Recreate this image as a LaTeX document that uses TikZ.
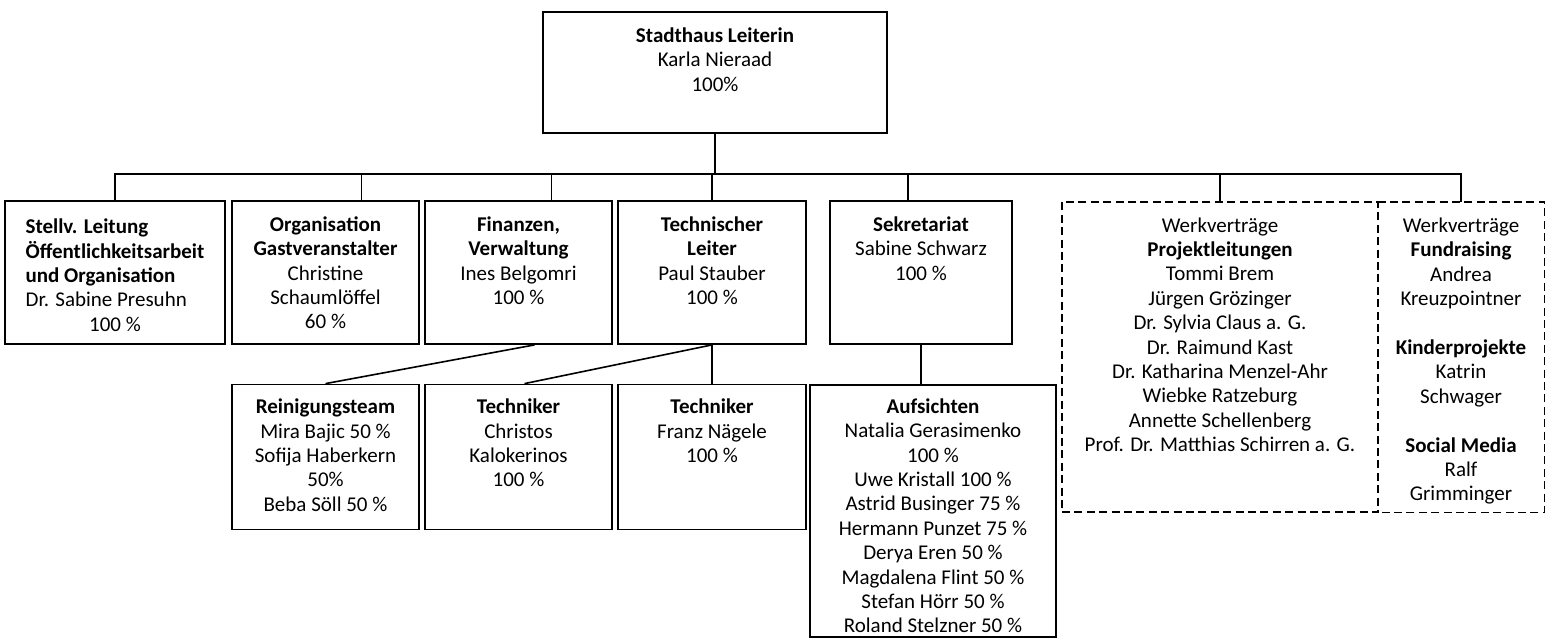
\documentclass[tikz,border=0pt]{standalone}
\usepackage{fontspec}
\setmainfont{Carlito}
\usetikzlibrary{calc}

\tikzset{
  box/.style={draw, line width=0.9pt, inner sep=0pt},
  dline/.style={line width=0.9pt, dash pattern=on 4pt off 2.2pt},
  dbox/.style={box, dline},
  txt/.style={anchor=north, align=center, inner sep=0pt, font=\fontsize{10.5}{12.2}\selectfont},
  conn/.style={line width=0.8pt}
}

\begin{document}
\begin{tikzpicture}[x=0.5pt, y=-0.5pt]

\useasboundingbox (0,0) rectangle (1546,639);

% boxes
\node[box, minimum width=172pt, minimum height=60.5pt] (leit) at (715,72.5) {};
\node[box, minimum width=110pt, minimum height=71.5pt] (stv) at (115,272.5) {};
\node[box, minimum width=93.5pt, minimum height=71.5pt] (org) at (325.5,272.5) {};
\node[box, minimum width=93.5pt, minimum height=71.5pt] (fin) at (518.5,272.5) {};
\node[box, minimum width=94pt, minimum height=71.5pt] (tech) at (712,272.5) {};
\node[box, minimum width=91pt, minimum height=71.5pt] (sek) at (921,272.5) {};
\node[dbox, minimum width=158pt, minimum height=155pt] (proj) at (1220,357) {};
\node[inner sep=0pt, minimum width=83pt, minimum height=155pt] (fund) at (1461,357) {};
\draw[dline] (fund.north west) -- (fund.north east) -- (fund.south east) -- (fund.south west);
\node[box, minimum width=93.5pt, minimum height=72.5pt] (rein) at (325.5,457) {};
\node[box, minimum width=93.5pt, minimum height=72.5pt] (tk1) at (518.5,457) {};
\node[box, minimum width=94pt, minimum height=72.5pt] (tk2) at (712,457) {};
\node[box, minimum width=123pt, minimum height=126pt] (auf) at (933,511) {};

% texts
\node[txt] (leit-t) at ($(leit.north)+(0,16)$) {\textbf{Stadthaus Leiterin}\\Karla Nieraad\\100\%};
\node[txt] (stv-t) at ($(stv.north)+(0,16)$) {\begin{tabular}[b]{@{}l@{}}\textbf{Stellv. Leitung}\\\textbf{Öffentlichkeitsarbeit}\\\textbf{und Organisation}\\Dr. Sabine Presuhn\end{tabular}\\100 \%};
\node[txt] (org-t) at ($(org.north)+(0,16)$) {\textbf{Organisation}\\\textbf{Gastveranstalter}\\Christine\\Schaumlöffel\\60 \%};
\node[txt] (fin-t) at ($(fin.north)+(0,16)$) {\textbf{Finanzen,}\\\textbf{Verwaltung}\\Ines Belgomri\\100 \%};
\node[txt] (tech-t) at ($(tech.north)+(0,16)$) {\textbf{Technischer}\\\textbf{Leiter}\\Paul Stauber\\100 \%};
\node[txt] (sek-t) at ($(sek.north)+(0,16)$) {\textbf{Sekretariat}\\Sabine Schwarz\\100 \%};
\node[txt] (proj-t) at ($(proj.north)+(0,16)$) {Werkverträge\\\textbf{Projektleitungen}\\Tommi Brem\\Jürgen Grözinger\\Dr. Sylvia Claus a. G.\\Dr. Raimund Kast\\Dr. Katharina Menzel-Ahr\\Wiebke Ratzeburg\\Annette Schellenberg\\Prof. Dr. Matthias Schirren a. G.};
\node[txt] (fund-t) at ($(fund.north)+(0,16)$) {Werkverträge\\\textbf{Fundraising}\\Andrea\\Kreuzpointner\\[12.2pt]\textbf{Kinderprojekte}\\Katrin\\Schwager\\[12.2pt]\textbf{Social Media}\\Ralf\\Grimminger};
\node[txt] (rein-t) at ($(rein.north)+(0,15)$) {\textbf{Reinigungsteam}\\Mira Bajic 50 \%\\Sofija Haberkern\\50\%\\Beba Söll 50 \%};
\node[txt] (tk1-t) at ($(tk1.north)+(0,15)$) {\textbf{Techniker}\\Christos\\Kalokerinos\\100 \%};
\node[txt] (tk2-t) at ($(tk2.north)+(0,15)$) {\textbf{Techniker}\\Franz Nägele\\100 \%};
\node[txt] (auf-t) at ($(auf.north)+(0,14)$) {\textbf{Aufsichten}\\Natalia Gerasimenko\\100 \%\\Uwe Kristall 100 \%\\Astrid Businger 75 \%\\Hermann Punzet 75 \%\\Derya Eren 50 \%\\Magdalena Flint 50 \%\\Stefan Hörr 50 \%\\Roland Stelzner 50 \%};

% connectors
\draw[conn] (leit.south) -- ++(0,40) coordinate (bar);
\draw[conn] (stv.north) |- (bar) -| (fund.north);
\coordinate (org-top) at ($(org.north)+(36,0)$);
\coordinate (fin-top) at ($(fin.north)+(33,0)$);
\coordinate (sek-top) at ($(sek.north)+(-13,0)$);
\draw[conn] (org-top) -- (org-top |- bar);
\draw[conn] (fin-top) -- (fin-top |- bar);
\draw[conn] (tech.north) -- (tech.north |- bar);
\draw[conn] (sek-top) -- (sek-top |- bar);
\draw[conn] (proj.north) -- (proj.north |- bar);

\draw[conn] ($(fin.south)+(16,0)$) -- (rein.north);
\draw[conn] (tech.south) -- ($(tk1.north)+(6,0)$);
\draw[conn] (tech.south) -- (tk2.north);
\draw[conn] (sek.south) -- (sek.south |- auf.north);

\end{tikzpicture}
\end{document}
